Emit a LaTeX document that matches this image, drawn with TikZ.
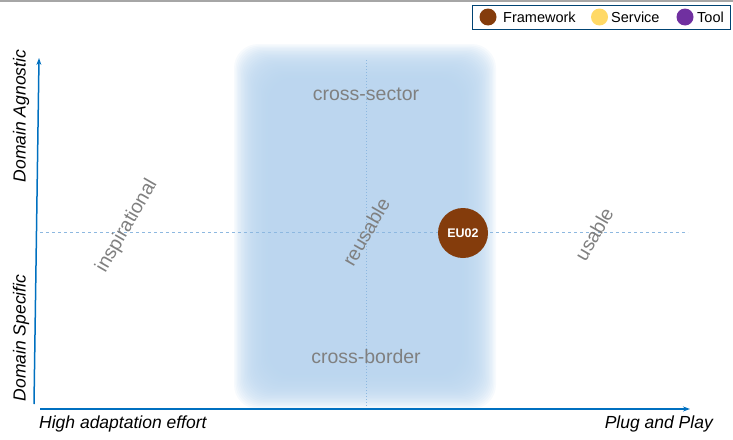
\documentclass[tikz,border=0pt]{standalone}
\usepackage{fontspec}
\setmainfont{Liberation Sans}
\usetikzlibrary{arrows.meta,positioning}
\definecolor{axisblue}{HTML}{0070C0}
\definecolor{gridblue}{HTML}{8DB8E0}
\definecolor{zoneblue}{HTML}{B8D4EE}
\definecolor{labelgray}{HTML}{808080}
\definecolor{framebrown}{HTML}{843C0C}
\definecolor{serviceyellow}{HTML}{FFD966}
\definecolor{toolpurple}{HTML}{7030A0}
\tikzset{
  zone/.style={font=\fontsize{19.5}{22}\selectfont,text=labelgray,inner sep=0pt},
  axislabel/.style={font=\fontsize{17.5}{20}\selectfont\itshape,inner sep=0pt},
  legdot/.style={circle,minimum size=17pt,inner sep=0pt},
  legtext/.style={font=\fontsize{14.5}{16}\selectfont,inner sep=0pt,anchor=west}
}
\begin{document}
\begin{tikzpicture}[>={Stealth[length=7pt,width=5pt]},x=1pt,y=-1pt]
	\useasboundingbox (0,0) rectangle (733,439);
	\def\mx{366}
	\def\my{232}
	\draw[gray!70,line width=2pt] (0,1)--(733,1); % top rule
	% blurred middle zone
	\foreach \i in {0,...,24}
		\fill[zoneblue,fill opacity=0.11,rounded corners=24pt] ({234+\i*1.4},{44+\i*1.4}) rectangle ({496-\i*1.4},{409-\i*1.4});
	% guide lines
	\draw[gridblue,dashed,line width=0.8pt] (40,\my)--(688,\my);
	\draw[gridblue,dotted,line width=1pt] (\mx,60)--(\mx,410);
	% axes
	\draw[axisblue,line width=1.5pt,->] (34,404)--(39,58);
	\draw[axisblue,line width=1.5pt,->] (40,409)--(690,409);
	\node[axislabel,rotate=90] (agn) at (21,116) {Domain Agnostic};
	\node[axislabel,rotate=90] (spec) at (21,338) {Domain Specific};
	\node[axislabel,anchor=west] (effort) at (39,424) {High adaptation effort};
	\node[axislabel,anchor=east] (plug) at (713,424) {Plug and Play};
	% zone labels
	\node[zone] (sector) at (\mx,94) {cross-sector};
	\node[zone] (border) at (\mx,357) {cross-border};
	\node[zone,rotate=60] (insp) at (127,226) {inspirational};
	\node[zone,rotate=60] (reuse) at (366,232) {reusable};
	\node[zone,rotate=60] (use) at (594,234) {usable};
	% framework
	\node[circle,fill=framebrown,minimum size=50pt,inner sep=0pt,text=white,font=\fontsize{12.5}{14}\selectfont\bfseries] (eu) at (463,233) {EU02};
	% legend
	\draw[axisblue!60!black,line width=0.6pt] (472,5) rectangle (730,29);
	\node[legdot,fill=framebrown] (fdot) at (488,17) {};
	\node[legtext] (ftxt) at (503,17) {Framework};
	\node[legdot,fill=serviceyellow] (sdot) at (599.5,17) {};
	\node[legtext] (stxt) at (611,17) {Service};
	\node[legdot,fill=toolpurple] (tdot) at (685,17) {};
	\node[legtext] (ttxt) at (697,17) {Tool};
\end{tikzpicture}
\end{document}
